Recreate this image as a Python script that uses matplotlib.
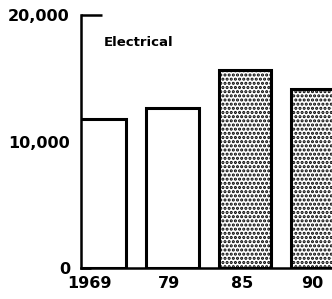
import matplotlib
matplotlib.use('Agg')
import matplotlib.pyplot as plt
import numpy as np

# Gegevens
years = ['1969', '79', '85', '90']
values = [11800, 12650, 15650, 14150]
projected = [False, False, True, True]
y_ticks = [0, 10000, 20000]
y_labels = ['0', '10,000', '20,000']
title = 'Electrical'

# kleine verschuiving van de jaartallen t.o.v. het midden van de staaf
label_shift = [-0.14, -0.05, -0.04, -0.07]

plt.rcParams['font.family'] = 'DejaVu Sans'
plt.rcParams['hatch.linewidth'] = 1.5

fig = plt.figure(figsize=(3.32, 2.99), dpi=100)
ax = fig.add_axes([81 / 332, 31 / 299, 251 / 332, 253 / 299])

x = np.arange(len(years))
for xi, v, p in zip(x, values, projected):
    ax.bar(xi, v, width=0.72, facecolor='white', edgecolor='black',
           linewidth=2.2, hatch='....' if p else None, zorder=2)

ax.set_xlim(-0.262, 3.2)
ax.set_ylim(0, 20000)

for s in ['top', 'right']:
    ax.spines[s].set_visible(False)
ax.spines['left'].set_linewidth(1.8)
ax.spines['bottom'].set_linewidth(1.8)
ax.spines['left'].set_zorder(3)

ax.set_yticks(y_ticks)
ax.set_yticklabels(y_labels, fontsize=11.5, fontweight='bold')
ax.tick_params(axis='y', direction='in', length=7.5, width=1.8, pad=8)
ax.yaxis.get_major_ticks()[2].tick1line.set_markersize(15)

ax.set_xticks(x + np.array(label_shift))
ax.set_xticklabels(years, fontsize=11.5, fontweight='bold')
ax.tick_params(axis='x', length=0, pad=6)

ax.text(0.09, 0.892, title, transform=ax.transAxes, fontsize=9.5,
        fontweight='bold', va='center')

plt.savefig('out.png', dpi=100)
